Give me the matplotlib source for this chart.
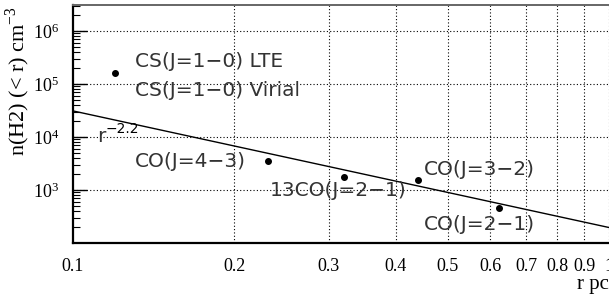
import numpy as np
import matplotlib
matplotlib.use("Agg")
import matplotlib.pyplot as plt
from matplotlib.ticker import FixedLocator, NullFormatter, LogLocator

# data
labels = ["CS", "CO(J=4-3)", "13CO(J=2-1)", "CO(J=3-2)", "CO(J=2-1)"]
r_vals = [0.120, 0.231, 0.320, 0.440, 0.624]
n_vals = [1.6e5, 3.5e3, 1.76e3, 1.55e3, 4.6e2]

fit_amp = 196.0
fit_index = -2.2

xtick_vals = [0.1, 0.2, 0.3, 0.4, 0.5, 0.6, 0.7, 0.8, 0.9, 1.0]
xtick_labels = ["0.1", "0.2", "0.3", "0.4", "0.5", "0.6", "0.7", "0.8", "0.9", "1"]
ytick_vals = [1e3, 1e4, 1e5, 1e6]

# text annotations: (text, r, n)
annots = [
    ("CS(J=1\u22120) LTE", 0.1305, 2.7e5),
    ("CS(J=1\u22120) Virial", 0.1305, 7.7e4),
    ("CO(J=4\u22123)", 0.1305, 3.45e3),
    ("13CO(J=2\u22121)", 0.233, 9.6e2),
    ("CO(J=3\u22122)", 0.452, 2.43e3),
    ("CO(J=2\u22121)", 0.452, 2.2e2),
]

W, H = 609, 296
fig = plt.figure(figsize=(W / 100, H / 100), dpi=100)
ax = fig.add_axes([73 / W, 53 / H, 536 / W, 238 / H])
ax.set_xscale("log")
ax.set_yscale("log")
ax.set_xlim(0.1, 1.0)
ax.set_ylim(1e2, 10 ** (2 + 238 / 53))

# grid
for xv in xtick_vals[1:]:
    ax.axvline(xv, color="black", lw=0.8, ls=(0, (1, 2)), zorder=1)
for yv in ytick_vals:
    ax.axhline(yv, color="black", lw=0.8, ls=(0, (1, 2)), zorder=1)

# fit line
rr = np.logspace(-1, 0, 100)
ax.plot(rr, fit_amp * rr ** fit_index, color="black", lw=1.0, zorder=3)

# points
ax.plot(r_vals, n_vals, "o", color="black", ms=4, zorder=4)

sans = dict(family=["DejaVu Sans"], fontsize=14.5, color="#333333")
for t, x, y in annots:
    ax.text(x, y, t, ha="left", va="center", **sans, zorder=5)
ax.text(0.1108, 8.06e3, "r", ha="left", va="baseline", fontsize=14.5, family="DejaVu Sans", color="#333333")
ax.text(0.1152, 1.42e4, "\u22122.2", ha="left", va="center", fontsize=10, family="DejaVu Sans")

# ticks
ax.xaxis.set_major_locator(FixedLocator(xtick_vals))
ax.xaxis.set_minor_locator(FixedLocator([]))
ax.set_xticklabels(xtick_labels, family="Liberation Serif", fontsize=13)
ax.tick_params(axis="x", which="major", direction="in", length=0, pad=11)

ax.yaxis.set_major_locator(FixedLocator(ytick_vals))
ax.yaxis.set_minor_locator(LogLocator(base=10, subs=np.arange(2, 10)))
ax.yaxis.set_minor_formatter(NullFormatter())
ax.set_yticklabels([r"$\mathregular{10^{%d}}$" % int(np.log10(v)) for v in ytick_vals],
                   family="Liberation Serif", fontsize=13)
ax.tick_params(axis="y", which="major", direction="in", length=10, width=1, pad=10)
ax.tick_params(axis="y", which="minor", direction="in", length=5, width=0.8)
ax.tick_params(right=False, top=False)

for s in ["left", "bottom"]:
    ax.spines[s].set_linewidth(1.6)
ax.spines["top"].set_color("#666666")
ax.spines["top"].set_linewidth(1.4)
ax.spines["right"].set_visible(False)

fig.text(18 / W, 1 - 81 / H, r"n(H2) (< r) cm$^{\mathregular{-3}}$", rotation=90, ha="center", va="center",
         family="Liberation Serif", fontsize=16)
fig.text(609 / W, 1 - 285 / H, "r pc", ha="right", va="center", family="Liberation Serif", fontsize=15)

fig.savefig("out.png", dpi=100)
